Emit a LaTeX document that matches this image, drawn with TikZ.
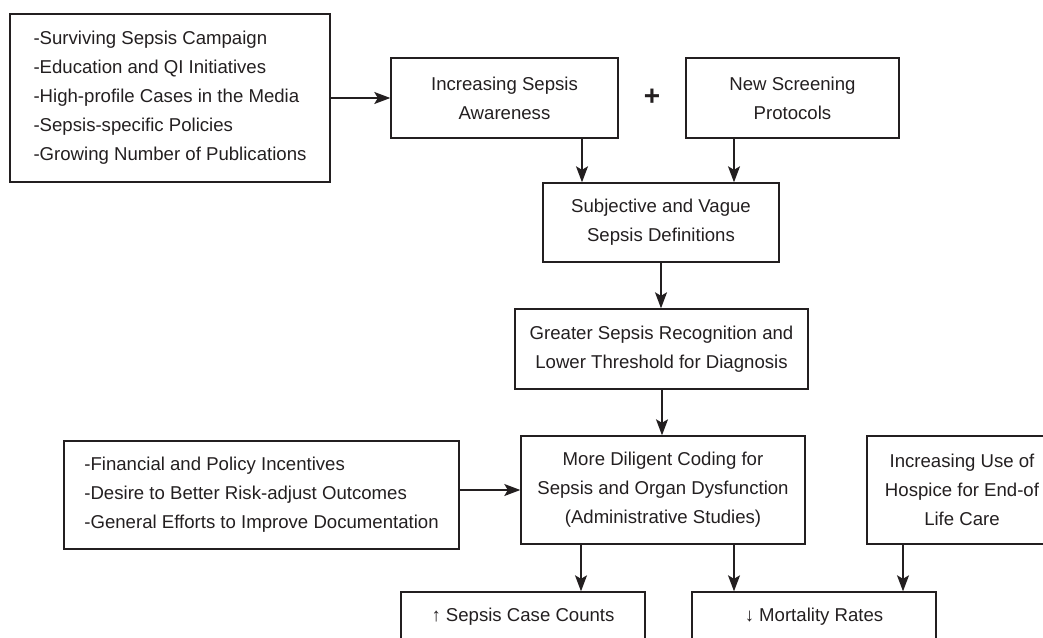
\documentclass[tikz,border=0pt]{standalone}
\usepackage{fontspec}
\setmainfont{Liberation Sans}
\usetikzlibrary{arrows.meta,calc}
\definecolor{ink}{HTML}{231F20}
\begin{document}
\begin{tikzpicture}[x=1pt,y=-1pt,
  box/.style={draw=ink, line width=1.4pt, text=ink, inner sep=0pt, align=center,
    font=\fontsize{18.6}{29}\selectfont},
  listbox/.style={box, align=left},
  arr/.style={draw=ink, line width=1.4pt, -{Stealth[length=16pt,width=12pt,inset=3.5pt]}}]
\useasboundingbox (0,0) rectangle (1043,637);
\clip (0,0) rectangle (1043,637);
\node[listbox, minimum width=320pt, minimum height=168pt] (src) at (170,98)
  {-Surviving Sepsis Campaign\\-Education and QI Initiatives\\-High-profile Cases in the Media\\-Sepsis-specific Policies\\-Growing Number of Publications};
\node[box, minimum width=227pt, minimum height=80pt] (aware) at (504.5,98) {Increasing Sepsis\\Awareness};
\node[box, minimum width=213pt, minimum height=80pt] (screen) at (792.5,98) {New Screening\\Protocols};
\node[text=ink, font=\fontsize{28}{30}\selectfont\bfseries, inner sep=0pt] (plus) at (652,97) {+};
\node[box, minimum width=236pt, minimum height=79pt] (subj) at (661,222.5) {Subjective and Vague\\Sepsis Definitions};
\node[box, minimum width=293pt, minimum height=80pt] (greater) at (661.5,349) {Greater Sepsis Recognition and\\Lower Threshold for Diagnosis};
\node[box, minimum width=284pt, minimum height=108pt] (dil) at (663,490) {More Diligent Coding for\\Sepsis and Organ Dysfunction\\(Administrative Studies)};
\node[listbox, minimum width=395pt, minimum height=108pt] (incent) at (261.5,495)
  {-Financial and Policy Incentives\\-Desire to Better Risk-adjust Outcomes\\-General Efforts to Improve Documentation};
\node[box, minimum width=190pt, minimum height=108pt] (hospice) at (962,490) {Increasing Use of\\Hospice for End-of\\Life Care};
\node[box, minimum width=244pt, minimum height=50pt] (cases) at (523,617) {↑ Sepsis Case Counts};
\node[box, minimum width=244pt, minimum height=50pt] (mort) at (814,617) {↓ Mortality Rates};
\coordinate (a1) at ([xshift=77.5pt]aware.south);
\coordinate (a2) at ([xshift=-58.5pt]screen.south);
\coordinate (g1) at ([xshift=0.5pt]greater.south);
\coordinate (d1) at ([xshift=-82pt]dil.south);
\coordinate (d2) at ([xshift=71pt]dil.south);
\coordinate (h1) at ([xshift=-59pt]hospice.south);
\draw[arr] (src.east) -- (aware.west);
\draw[arr] (a1) -- (a1 |- subj.north);
\draw[arr] (a2) -- (a2 |- subj.north);
\draw[arr] (subj.south) -- (subj.south |- greater.north);
\draw[arr] (g1) -- (g1 |- dil.north);
\draw[arr] (incent.east |- dil.west) -- (dil.west);
\draw[arr] (d1) -- (d1 |- cases.north);
\draw[arr] (d2) -- (d2 |- mort.north);
\draw[arr] (h1) -- (h1 |- mort.north);
\end{tikzpicture}
\end{document}
